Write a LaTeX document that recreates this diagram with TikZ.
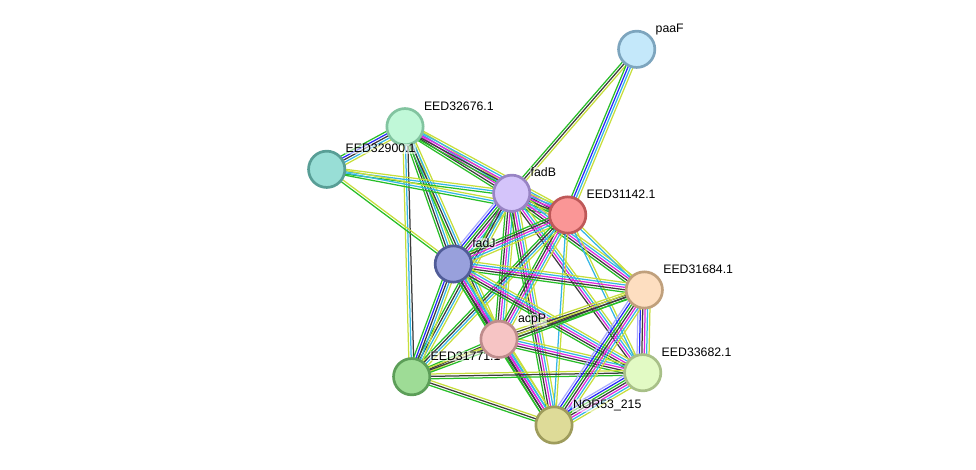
\documentclass[tikz,border=0pt]{standalone}
\usepackage{fontspec}
\setmainfont{Liberation Sans}
\usetikzlibrary{calc, backgrounds}
\definecolor{tmine}{RGB}{199,222,60}
\definecolor{coexp}{RGB}{60,60,60}
\definecolor{dbase}{RGB}{53,182,230}
\definecolor{exper}{RGB}{222,40,222}
\definecolor{neigh}{RGB}{40,190,40}
\definecolor{cooc}{RGB}{40,40,250}
\definecolor{homol}{RGB}{170,170,255}

% one line per evidence channel, side by side
\newcommand{\linkedge}[3]{%
  \foreach \c [count=\n] in {#3} {\xdef\edgecount{\n}}%
  \foreach \c [count=\i] in {#3} {%
    \pgfmathsetmacro\off{(\i-(\edgecount+1)/2)*2.4}%
    \draw[link, \c] ($(#1)!\off pt!90:(#2)$) -- ($(#2)!\off pt!-90:(#1)$);
  }}

\tikzset{
  prot/.style={circle, minimum size=36.3pt, inner sep=0pt, line width=2.7pt},
  lbl/.style={font=\fontsize{12.3}{14}\selectfont, inner sep=0.6pt, anchor=base west, xshift=3pt, yshift=1.2pt,
    fill=white, fill opacity=0.55, text opacity=1},
  link/.style={line width=1.25pt},
}

\begin{document}
\begin{tikzpicture}[x=1pt, y=-1pt, label distance=2pt]
\useasboundingbox (0,0) rectangle (976,470);

\node[prot, fill={rgb,255:red,196;green,232;blue,250}, draw={rgb,255:red,125;green,165;blue,190}, label={[lbl]45:paaF}] (paaF) at (636.7,49.3) {};
\node[prot, fill={rgb,255:red,192;green,248;blue,216}, draw={rgb,255:red,130;green,196;blue,160}, label={[lbl]45:EED32676.1}] (E32676) at (405,126.7) {};
\node[prot, fill={rgb,255:red,152;green,222;blue,214}, draw={rgb,255:red,88;green,158;blue,150}, label={[lbl]45:EED32900.1}] (E32900) at (326.7,169.3) {};
\node[prot, fill={rgb,255:red,212;green,196;blue,250}, draw={rgb,255:red,152;green,132;blue,196}, label={[lbl]45:fadB}] (fadB) at (511.7,193.3) {};
\node[prot, fill={rgb,255:red,250;green,150;blue,150}, draw={rgb,255:red,190;green,88;blue,88}, label={[lbl]45:EED31142.1}] (E31142) at (567.7,215) {};
\node[prot, fill={rgb,255:red,152;green,160;blue,220}, draw={rgb,255:red,80;green,92;blue,152}, label={[lbl]45:fadJ}] (fadJ) at (453.3,264) {};
\node[prot, fill={rgb,255:red,253;green,222;blue,192}, draw={rgb,255:red,192;green,160;blue,124}, label={[lbl]45:EED31684.1}] (E31684) at (644.3,290) {};
\node[prot, fill={rgb,255:red,158;green,220;blue,150}, draw={rgb,255:red,92;green,158;blue,88}, label={[lbl]45:EED31771.1}] (E31771) at (411.7,376.7) {};
\node[prot, fill={rgb,255:red,246;green,196;blue,196}, draw={rgb,255:red,190;green,140;blue,140}, label={[lbl]45:acpP}] (acpP) at (499,339.3) {};
\node[prot, fill={rgb,255:red,226;green,250;blue,196}, draw={rgb,255:red,168;green,192;blue,136}, label={[lbl]45:EED33682.1}] (E33682) at (642.7,372.7) {};
\node[prot, fill={rgb,255:red,222;green,219;blue,152}, draw={rgb,255:red,158;green,156;blue,92}, label={[lbl]45:NOR53\_215}] (NOR) at (554,425) {};

\begin{pgfonlayer}{background}
\linkedge{paaF}{fadB}{neigh,coexp,tmine}
\linkedge{paaF}{E31142}{neigh,cooc,dbase,tmine}
\linkedge{E32676}{E32900}{neigh,cooc,coexp,dbase,tmine}
\linkedge{E32676}{fadB}{neigh,coexp,exper,dbase,tmine}
\linkedge{E32676}{E31142}{neigh,coexp,exper,dbase,tmine}
\linkedge{E32676}{fadJ}{neigh,coexp,dbase,tmine}
\linkedge{E32676}{acpP}{neigh,coexp,dbase,tmine}
\linkedge{E32676}{E31771}{tmine,dbase,coexp}
\linkedge{E32900}{fadB}{neigh,dbase,tmine}
\linkedge{E32900}{E31142}{neigh,dbase,tmine}
\linkedge{E32900}{fadJ}{neigh,tmine}
\linkedge{fadB}{E31142}{homol,neigh,coexp,exper,dbase,tmine}
\linkedge{fadB}{fadJ}{homol,cooc,neigh,coexp,exper,dbase,tmine}
\linkedge{fadB}{acpP}{neigh,coexp,exper,dbase,tmine}
\linkedge{fadB}{E31771}{neigh,coexp,dbase,tmine}
\linkedge{fadB}{E31684}{neigh,coexp,exper,dbase,tmine}
\linkedge{fadB}{E33682}{coexp,exper,dbase,tmine}
\linkedge{fadB}{NOR}{neigh,coexp,exper,dbase,tmine}
\linkedge{E31142}{fadJ}{neigh,coexp,exper,dbase,tmine}
\linkedge{E31142}{acpP}{neigh,coexp,exper,dbase,tmine}
\linkedge{E31142}{E31771}{neigh,coexp,dbase,tmine}
\linkedge{E31142}{E31684}{dbase,tmine}
\linkedge{E31142}{E33682}{dbase,tmine}
\linkedge{E31142}{NOR}{dbase,tmine}
\linkedge{fadJ}{acpP}{neigh,coexp,exper,dbase,tmine}
\linkedge{fadJ}{E31771}{neigh,cooc,coexp,dbase,tmine}
\linkedge{fadJ}{E31684}{neigh,coexp,exper,dbase,tmine}
\linkedge{fadJ}{E33682}{neigh,coexp,exper,dbase,tmine}
\linkedge{fadJ}{NOR}{neigh,coexp,exper,dbase,tmine}
\linkedge{acpP}{E31684}{neigh,coexp,coexp,tmine}
\linkedge{acpP}{E33682}{neigh,coexp,exper,dbase,tmine}
\linkedge{acpP}{NOR}{neigh,coexp,exper,dbase,tmine}
\linkedge{acpP}{E31771}{neigh,coexp,tmine}
\linkedge{E31771}{E31684}{neigh,coexp,tmine}
\linkedge{E31771}{E33682}{neigh,coexp,tmine}
\linkedge{E31771}{NOR}{neigh,coexp,tmine}
\linkedge{E31684}{E33682}{homol,cooc,coexp,exper,dbase,tmine}
\linkedge{E31684}{NOR}{homol,cooc,neigh,coexp,exper,dbase,tmine}
\linkedge{E33682}{NOR}{homol,cooc,neigh,coexp,exper,dbase,tmine}
\end{pgfonlayer}
\end{tikzpicture}
\end{document}
